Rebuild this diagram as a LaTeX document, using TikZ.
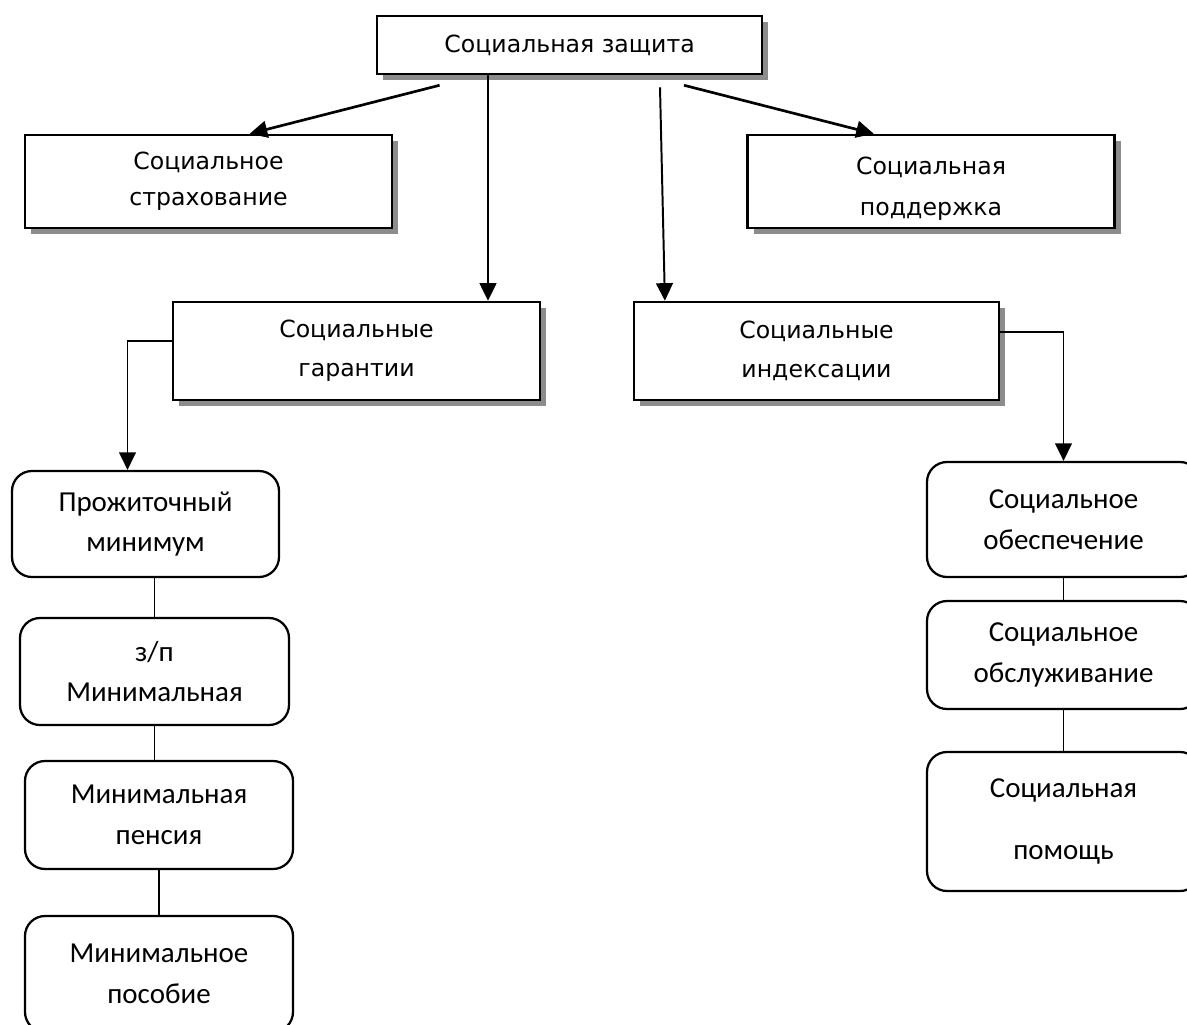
\documentclass[tikz,border=0pt]{standalone}
\usepackage{fontspec}
\newfontfamily\rectfont{DejaVu Sans}
\newfontfamily\roundfont{Carlito}
\usetikzlibrary{arrows.meta,shadows}

\tikzset{
  sqbox/.style={draw, line width=1.8pt, fill=white, inner sep=0pt, align=center,
    minimum width=9.175cm, minimum height=2.325cm,
    drop shadow={shadow xshift=0.15cm, shadow yshift=-0.15cm, fill=black!45, opacity=1},
    font=\rectfont\fontsize{16.8pt}{28pt}\selectfont},
  rndbox/.style={draw, line width=1.6pt, rounded corners=0.5cm, inner sep=0pt, align=center,
    minimum width=6.7cm, minimum height=2.7cm,
    font=\roundfont\fontsize{20.6pt}{29pt}\selectfont},
  arr/.style={-{Triangle[length=0.44cm,width=0.42cm]}, line width=1.4pt},
  link/.style={line width=1.4pt}
}

\begin{document}
\begin{tikzpicture}
    \useasboundingbox (0,0) rectangle (29.675,-25.6);

    % top row
    \node[sqbox, minimum width=9.625cm, minimum height=1.45cm] (zash) at (14.24,-1.125) {Социальная защита};
    \node[sqbox] (strah) at (5.2125,-4.5375) {Социальное\\[-0.08cm]страхование};
    \node[sqbox] (podd) at (23.275,-4.5375) {\\[-0.2cm]Социальная\\[0.05cm]поддержка};

    % second row
    \node[sqbox, minimum height=2.45cm] (gar) at (8.9125,-8.775) {Социальные\\гарантии};
    \node[sqbox, minimum width=9.125cm, minimum height=2.45cm] (ind) at (20.4125,-8.775) {Социальные\\индексации};

    % left column
    \node[rndbox, minimum width=6.675cm, minimum height=2.65cm] (prozh) at (3.6375,-13.1) {Прожиточный\\минимум};
    \node[rndbox, minimum width=6.725cm, minimum height=2.675cm] (zp) at (3.8625,-16.7875) {з/п\\Минимальная};
    \node[rndbox] (pens) at (3.975,-20.375) {Минимальная\\пенсия};
    \node[rndbox, minimum height=2.9cm] (posob) at (3.975,-24.35) {Минимальное\\пособие};

    % right column
    \node[rndbox, minimum width=6.825cm, minimum height=2.875cm] (obesp) at (26.5875,-12.9875) {Социальное\\обеспечение};
    \node[rndbox, minimum width=6.825cm] (obsl) at (26.5875,-16.375) {Социальное\\обслуживание};
    \node[rndbox, minimum width=6.825cm, minimum height=3.475cm] (pomosh) at (26.5875,-20.5375) {Социальная\\[0.55cm]помощь};

    % arrows from the top
    \draw[arr, line width=1.9pt] ([xshift=-3.25cm,yshift=-0.25cm]zash.south) -- ([xshift=1.03cm]strah.north);
    \draw[arr, line width=1.9pt] ([xshift=2.86cm,yshift=-0.25cm]zash.south) -- ([xshift=-1.43cm]podd.north);
    \draw[arr] ([xshift=-2.04cm]zash.south) -- ([xshift=-2.04cm]zash.south |- gar.north);
    \draw[arr] ([xshift=2.26cm,yshift=-0.3cm]zash.south) -- ([xshift=-3.79cm]ind.north);

    % elbows
    \draw[arr] ([yshift=0.25cm]gar.west) -| ([xshift=-0.45cm]prozh.north);
    \draw[arr] ([yshift=0.475cm]ind.east) -| (obesp.north);

    % chains
    \draw[link] (zp.north) -- (zp.north |- prozh.south);
    \draw[link] (zp.south) -- (zp.south |- pens.north);
    \draw[link] (pens.south) -- (posob.north);
    \draw[link] (obesp.south) -- (obsl.north);
    \draw[link] (obsl.south) -- (pomosh.north);
\end{tikzpicture}
\end{document}
